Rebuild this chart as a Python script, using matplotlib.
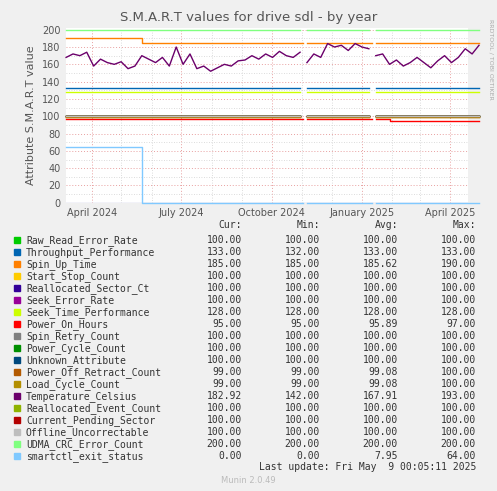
import numpy as np
import pandas as pd
import matplotlib.pyplot as plt
import matplotlib.dates as mdates

# weekly samples starting 2024-03-06, NaN = short break in the data
temperature = [168, 172, 170, 174,
               158, 166, 162, 160,
               163, 155, 158, 170, 166,
               162, 168, 158, 180, 160,
               172, 155, 158, 152,
               156, 160, 158, 164, 165,
               170, 166, 172, 168,
               175, 170, 168, 174,
               np.nan,
               162, 172, 168, 184, 180,
               182, 176, 184, 180, 178,
               np.nan,
               170, 172, 160, 165,
               158, 162, 168, 162,
               156, 164, 170, 162,
               168, 178, 172, 182]

names = ["Raw_Read_Error_Rate", "Throughput_Performance", "Spin_Up_Time", "Start_Stop_Count",
         "Reallocated_Sector_Ct", "Seek_Error_Rate", "Seek_Time_Performance", "Power_On_Hours",
         "Spin_Retry_Count", "Power_Cycle_Count", "Unknown_Attribute", "Power_Off_Retract_Count",
         "Load_Cycle_Count", "Temperature_Celsius", "Reallocated_Event_Count",
         "Current_Pending_Sector", "Offline_Uncorrectable", "UDMA_CRC_Error_Count",
         "smartctl_exit_status"]
colors = ["#00CC00", "#0066B3", "#FF8000", "#FFCC00", "#330099", "#990099", "#CCFF00",
          "#FF0000", "#808080", "#008F00", "#00487D", "#B35A00", "#B38F00", "#6B006B",
          "#8FB300", "#B30000", "#BEBEBE", "#80FF80", "#80C9FF"]
cur = [100, 133, 185, 100, 100, 100, 128, 95, 100, 100, 100, 99, 99, 182.92, 100, 100, 100, 200, 0]
mins = [100, 132, 185, 100, 100, 100, 128, 95, 100, 100, 100, 99, 99, 142, 100, 100, 100, 200, 0]
avgs = [100, 133, 185.62, 100, 100, 100, 128, 95.89, 100, 100, 100, 99.08, 99.08, 167.91, 100, 100, 100, 200, 7.95]
maxs = [100, 133, 190, 100, 100, 100, 128, 97, 100, 100, 100, 100, 100, 193, 100, 100, 100, 200, 64]

# step changes: (value before, value after, change date)
spin_up = (190, 185, "2024-05-16")
power_on = (97, 95, "2025-01-28")
exit_status = (64, 0, "2024-05-19")

# dates: weekly for real samples; a break marker sits 3 days after the previous sample
gap = np.isnan(temperature)
dates = []
d = pd.Timestamp("2024-03-06")
for g in gap:
    if g:
        dates.append(d - pd.Timedelta(days=4))
    else:
        dates.append(d)
        d = d + pd.Timedelta(days=7)
dates = pd.DatetimeIndex(dates)

fig = plt.figure(figsize=(4.97, 4.91), dpi=100, facecolor="#F0F0F0")
ax = fig.add_axes([0.133, 0.587, 0.809, 0.356], facecolor="white")

def series(i):
    if names[i] == "Temperature_Celsius":
        return np.array(temperature, dtype=float)
    for n, (a, b, dd) in (("Spin_Up_Time", spin_up), ("Power_On_Hours", power_on),
                          ("smartctl_exit_status", exit_status)):
        if names[i] == n:
            v = np.where(dates < pd.Timestamp(dd), a, b).astype(float)
            break
    else:
        v = np.full(len(dates), float(cur[i]))
    v[gap] = np.nan
    return v

for i in range(len(names)):
    v = series(i)
    if names[i] in ("Spin_Up_Time", "Power_On_Hours", "smartctl_exit_status"):
        ax.step(dates, v, where="post", color=colors[i], lw=1, clip_on=False, zorder=3)
    else:
        ax.plot(dates, v, color=colors[i], lw=1, clip_on=False, zorder=3)

ax.set_xlim(pd.Timestamp("2024-03-06"), pd.Timestamp("2025-04-19"))
ax.set_ylim(0, 202)
ax.set_yticks(range(0, 201, 20))
ax.set_yticks(range(0, 201, 10), minor=True)
ax.xaxis.set_major_locator(mdates.MonthLocator(bymonth=[1, 4, 7, 10]))
ax.xaxis.set_minor_locator(mdates.MonthLocator())
ax.xaxis.set_major_formatter(mdates.DateFormatter("%B %Y"))
ax.grid(which="major", color="#E8A0A0", ls=(0, (1, 2)), lw=0.7)
ax.grid(which="minor", color="#D0D0D0", ls=(0, (1, 2)), lw=0.6)
ax.set_axisbelow(True)
for s in ax.spines.values():
    s.set_visible(False)
ax.axhline(0, color="#C0C0E0", lw=1, zorder=2)
ax.tick_params(which="both", length=0, labelsize=7, colors="#555555", pad=4)
ax.set_ylabel("Attribute S.M.A.R.T value", fontsize=8, color="#555555")
fig.text(0.5, 0.958, "S.M.A.R.T values for drive sdl - by year", ha="center", fontsize=9.5, color="#555555")
fig.text(0.982, 0.88, "RRDTOOL / TOBI OETIKER", rotation=270, fontsize=4.5, color="#AAAAAA", va="center")

mono = dict(family="DejaVu Sans Mono", fontsize=7, color="#333333")
y0 = 1 - 228 / 491
fig.text(242 / 497, y0, "Cur:", ha="right", **mono)
fig.text(320 / 497, y0, "Min:", ha="right", **mono)
fig.text(398 / 497, y0, "Avg:", ha="right", **mono)
fig.text(476 / 497, y0, "Max:", ha="right", **mono)
for i in range(len(names)):
    y = 1 - (243 + 12 * i) / 491
    fig.patches.append(plt.Rectangle((14 / 497, y - 0.001), 6 / 497, 6 / 491,
                                     transform=fig.transFigure, color=colors[i]))
    fig.text(26 / 497, y, names[i], **mono)
    for x, val in zip((242, 320, 398, 476), (cur[i], mins[i], avgs[i], maxs[i])):
        fig.text(x / 497, y, f"{val:.2f}", ha="right", **mono)
fig.text(476 / 497, 1 - 470 / 491, "Last update: Fri May  9 00:05:11 2025", ha="right", **mono)
fig.text(248 / 497, 1 - 483 / 491, "Munin 2.0.49", ha="center", fontsize=6, color="#BBBBBB")

fig.savefig("out.png", dpi=100, facecolor=fig.get_facecolor())
